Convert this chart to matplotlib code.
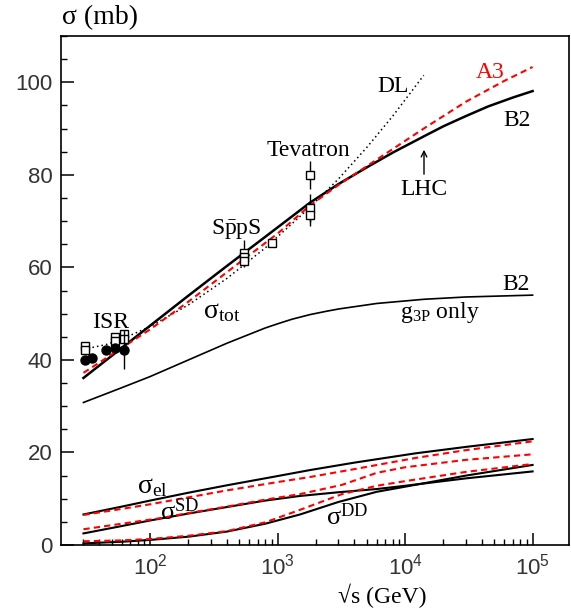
import numpy as np
import matplotlib
matplotlib.use("Agg")
import matplotlib.pyplot as plt

plt.rcParams['mathtext.fontset'] = 'custom'
plt.rcParams['mathtext.rm'] = 'Liberation Serif'
plt.rcParams['mathtext.it'] = 'Liberation Serif:italic'
plt.rcParams['mathtext.sf'] = 'Liberation Sans'
plt.rcParams['font.family'] = ['Liberation Serif', 'DejaVu Sans']

# ---------------- data ----------------
# total cross section, model B2 (solid)
tot_b2_E = [30, 60, 100, 200, 400, 800, 1800, 3000, 5000, 8000, 14000, 20000, 30000,
            45000, 70000, 100000]
tot_b2_s = [36.1, 42.6, 47.4, 53.9, 60.3, 66.6, 74.0, 78.0, 81.6, 84.8, 88.3, 90.5, 92.7,
            94.8, 96.7, 98.1]
# total cross section, model A3 (red dashed)
tot_a3_E = [30, 60, 100, 200, 546, 1000, 1800, 3000, 6000, 14000, 30000, 60000, 100000]
tot_a3_s = [37.2, 42.6, 46.6, 52.6, 61.8, 67.3, 73.4, 77.8, 83.3, 90.0, 95.8, 100.3, 103.3]
# Donnachie-Landshoff (dotted)
dl_E = [30, 45, 60, 100, 200, 400, 800, 1800, 3000, 5000, 8000, 14000]
dl_s = [42.3, 43.3, 44.5, 47.2, 51.9, 57.6, 64.2, 73.0, 79.1, 85.9, 92.7, 101.5]
# B2 with g3P only
g3p_E = [30, 60, 100, 200, 400, 800, 1000, 1300, 1800, 2400, 3000, 6000, 14000, 30000, 100000]
g3p_s = [30.8, 34.0, 36.4, 40.0, 43.6, 46.9, 47.8, 48.8, 49.8, 50.5, 51.0, 52.2, 53.1, 53.6, 54.0]
# elastic
el_b2_E = [30, 60, 100, 200, 400, 1000, 1800, 4000, 12000, 30000, 100000]
el_b2_s = [6.6, 8.3, 9.6, 11.3, 12.9, 14.9, 16.2, 17.8, 19.8, 21.2, 22.9]
el_a3_E = [30, 60, 100, 200, 400, 1000, 1800, 4000, 12000, 30000, 100000]
el_a3_s = [6.5, 7.8, 8.8, 10.3, 11.8, 13.6, 14.7, 16.4, 18.8, 20.5, 22.4]
# single diffraction
sd_b2_E = [30, 60, 100, 200, 400, 800, 1500, 3000, 6000, 10000, 30000, 100000]
sd_b2_s = [2.5, 4.1, 5.3, 6.8, 8.2, 9.6, 10.6, 11.4, 12.1, 12.8, 14.4, 15.9]
sd_a3_E = [30, 60, 120, 200, 400, 800, 1500, 3200, 6000, 10000, 30000, 100000]
sd_a3_s = [3.4, 4.6, 5.8, 6.9, 8.3, 9.8, 11.0, 13.0, 15.6, 16.8, 18.4, 19.6]
# double diffraction
dd_b2_E = [30, 60, 100, 200, 400, 800, 1500, 3000, 6000, 10000, 30000, 100000]
dd_b2_s = [0.35, 0.7, 1.1, 1.8, 2.9, 4.6, 6.6, 9.3, 11.5, 12.6, 15.0, 17.3]
dd_a3_E = [30, 60, 100, 200, 400, 800, 1500, 3200, 6000, 10000, 30000, 100000]
dd_a3_s = [0.8, 1.0, 1.3, 2.0, 3.0, 4.9, 7.6, 11.0, 12.8, 13.8, 15.8, 17.5]

# data points: pp (filled circles)
pp_E = [30.6, 35.2, 44.7, 52.8, 62.7]
pp_s = [40.0, 40.4, 42.1, 42.6, 42.2]
pp_err = [0.3, 0.3, 0.3, 0.3, 4.2]
# pbar-p (open squares)
pbp_E = [30.6, 30.6, 52.8, 52.8, 62.7, 62.7, 546, 546, 546, 900, 1800, 1800, 1800]
pbp_s = [42.9, 42.2, 45.0, 44.0, 45.5, 44.5, 63.0, 62.2, 61.3, 65.3, 80.0, 72.8, 71.4]
pbp_err = [0.5, 0.5, 0.5, 0.5, 0.5, 0.5, 2.9, 1.5, 0.9, 0.7, 3.0, 3.1, 2.4]

# ---------------- figure ----------------
fig = plt.figure(figsize=(5.71, 6.13), dpi=100)
ax = fig.add_axes([61/571, 1-545/613, (569-61)/571, (545-36)/613])
ax.set_xscale('log')
ax.set_xlim(20, 1.93e5)
ax.set_ylim(0, 110)

red = '#ff0000'
ax.plot(dl_E, dl_s, color='black', lw=1.1, ls=(0, (1, 2)))
ax.plot(tot_b2_E, tot_b2_s, color='black', lw=1.8)
ax.plot(tot_a3_E, tot_a3_s, color=red, lw=1.5, ls=(0, (3, 2)))
ax.plot(g3p_E, g3p_s, color='black', lw=1.2)
for E, s in [(el_b2_E, el_b2_s), (sd_b2_E, sd_b2_s), (dd_b2_E, dd_b2_s)]:
    ax.plot(E, s, color='black', lw=1.5)
for E, s in [(el_a3_E, el_a3_s), (sd_a3_E, sd_a3_s), (dd_a3_E, dd_a3_s)]:
    ax.plot(E, s, color=red, lw=1.5, ls=(0, (3, 2)))

ax.errorbar(pbp_E, pbp_s, yerr=pbp_err, fmt='s', ms=6, mfc='white', mec='black',
            mew=1.0, ecolor='black', elinewidth=1.0, capsize=0, zorder=5)
ax.errorbar(pp_E, pp_s, yerr=pp_err, fmt='o', ms=6.5, mfc='black', mec='black',
            ecolor='black', elinewidth=1.0, capsize=0, zorder=6)

# ticks
ax.set_xticks([1e2, 1e3, 1e4, 1e5])
ax.set_xticklabels([r'$\mathsf{10^{2}}$', r'$\mathsf{10^{3}}$', r'$\mathsf{10^{4}}$', r'$\mathsf{10^{5}}$'])
minors = [m * 10**d for d in range(1, 5) for m in range(2, 10) if 20 < m * 10**d < 1e5]
ax.set_xticks(minors, minor=True)
ax.set_xticklabels([], minor=True)
ax.set_yticks([0, 20, 40, 60, 80, 100])
ax.set_yticks(np.arange(0, 111, 5), minor=True)
ax.tick_params(which='both', direction='in', top=False, right=False)
ax.tick_params(which='major', length=9, width=1.1, labelsize=16, pad=6, colors='black',
               labelcolor='#333333')
ax.tick_params(which='minor', length=4.5, width=1.0)
for lab in ax.get_yticklabels():
    lab.set_family('Liberation Sans')
for sp in ax.spines.values():
    sp.set_linewidth(1.2)

# text
fs = 17


def t(x, y, s, color='black', size=fs, ha='center'):
    fig.text(x/571, 1-y/613, s, fontsize=size, color=color, ha=ha, va='center')


fig.text(62/571, 1-18/613, 'σ (mb)', fontsize=20, va='center', ha='left')
t(382, 596, '√s (GeV)')
t(393, 86, 'DL')
t(490, 72, 'A3', color=red)
t(517, 121, 'B2')
t(308, 150, 'Tevatron')
t(424, 190, 'LHC')
t(236, 229, r'S$\mathrm{\bar{p}}$pS')
t(111, 322, 'ISR')
t(222, 312, r'$\mathrm{\sigma_{tot}}$', size=20)
t(516, 285, 'B2')
t(440, 313, r'$\mathrm{g_{3P}}$ only')
t(152, 487, r'$\mathrm{\sigma_{el}}$', size=20)
t(180, 512, r'$\mathrm{\sigma^{SD}}$', size=19)
t(347, 517, r'$\mathrm{\sigma^{DD}}$', size=19)

ax.annotate('', xy=(424/571, 1-147/613), xytext=(424/571, 1-177/613),
            xycoords='figure fraction', textcoords='figure fraction',
            arrowprops=dict(arrowstyle='->', color='black', lw=1.0))

fig.savefig('out.png', dpi=100)
